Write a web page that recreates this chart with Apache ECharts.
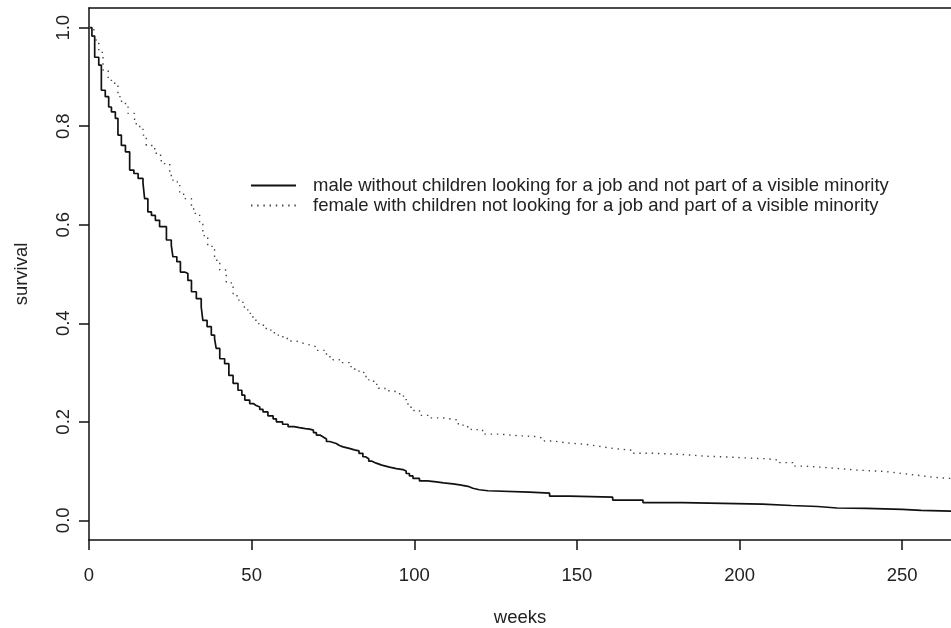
<!DOCTYPE html>
<html><head><meta charset="utf-8">
<script src="https://cdn.jsdelivr.net/npm/echarts@6/dist/echarts.min.js"></script>
<style>html,body{margin:0;padding:0;background:#fff}#c{width:951px;height:628px}</style>
</head><body><div id="c"></div>
<script>
const seriesNames = [
  'male without children looking for a job and not part of a visible minority',
  'female with children not looking for a job and part of a visible minority'
];
const maleWeeks = [0,0.9,1.75,3.0,3.8,5.0,6.05,6.9,8.1,8.9,9.95,11.2,12.5,13.8,15.1,16.6,17.1,18.1,19.2,20.4,21.7,23.8,25.3,25.8,27.0,28.1,29.4,30.4,31.5,33.0,34.5,35.0,36.3,37.6,38.6,39.1,40.2,41.7,43.0,44.3,45.8,47.0,47.9,49.4,50.5,51.4,52.5,53.5,55.0,56.6,57.6,59.5,61.2,63,64.7,66.5,67.8,69,69.9,71,72,73,74,76,77,78.1,80,81.6,83,84.2,85,86,87,88.3,90,92.4,94.5,96.5,97.5,98.5,99.6,101.6,104,106.8,109,111.9,114,116.5,118,120,122.6,135.4,141.6,147.7,161,170.3,182.5,207,215.9,224,230,239,250,255.8,268];
const maleSurv = [1.0,0.983,0.94,0.924,0.873,0.86,0.839,0.829,0.816,0.782,0.761,0.748,0.711,0.704,0.694,0.684,0.653,0.626,0.619,0.609,0.596,0.569,0.558,0.535,0.525,0.504,0.501,0.487,0.464,0.450,0.433,0.406,0.393,0.376,0.369,0.349,0.328,0.318,0.294,0.278,0.264,0.254,0.244,0.237,0.233,0.230,0.225,0.220,0.212,0.206,0.200,0.195,0.190,0.188,0.186,0.185,0.183,0.178,0.173,0.169,0.165,0.160,0.156,0.152,0.149,0.146,0.143,0.141,0.136,0.129,0.125,0.120,0.116,0.112,0.108,0.105,0.103,0.100,0.095,0.090,0.085,0.080,0.078,0.076,0.074,0.072,0.069,0.065,0.062,0.060,0.057,0.055,0.049,0.047,0.041,0.036,0.033,0.030,0.028,0.025,0.024,0.022,0.020,0.018,0.018];
const femaleWeeks = [0,1.5,3.0,4.3,5.9,7.9,8.9,10.0,12.0,14.0,15.6,16.6,17.6,20.2,22.0,22.7,24.8,25.8,27.9,29.4,31.5,32.5,34.0,35.0,36.5,38.6,40.2,42.2,44.3,45.5,47.3,48.8,50.4,52.2,54.5,57,59.6,61.5,63.7,65.5,67.8,70,73.0,75,77,80,81.5,83,84.5,86,87.5,89,91,93,95.5,97.5,99,101.6,105,108.8,112.9,115,117.5,121,126,131.4,137.5,140,142.6,147,152.9,157,161,167.2,173.3,181.5,190,197.9,204,208.2,212.3,216.4,220,224.6,228.6,236,245,250,255.3,260,264.6,268];
const femaleSurv = [1.0,0.975,0.95,0.914,0.893,0.883,0.86,0.846,0.826,0.805,0.795,0.782,0.761,0.745,0.730,0.724,0.700,0.687,0.662,0.653,0.632,0.623,0.602,0.578,0.556,0.528,0.508,0.482,0.460,0.447,0.433,0.420,0.406,0.396,0.386,0.376,0.369,0.364,0.360,0.356,0.352,0.345,0.332,0.326,0.320,0.312,0.307,0.300,0.292,0.285,0.276,0.268,0.263,0.260,0.252,0.236,0.223,0.213,0.208,0.204,0.196,0.190,0.184,0.175,0.172,0.170,0.166,0.161,0.157,0.154,0.150,0.146,0.142,0.136,0.134,0.130,0.128,0.126,0.125,0.122,0.117,0.110,0.108,0.106,0.102,0.099,0.095,0.091,0.087,0.085,0.082,0.080];
const xTicks = [0,50,100,150,200,250];
const yTicks = [0,0.2,0.4,0.6,0.8,1.0];
const yTickLabels = ['0.0','0.2','0.4','0.6','0.8','1.0'];
const xName = 'weeks';
const yName = 'survival';

const FONT = "'Liberation Sans', Arial, Helvetica, sans-serif";
const FS = 18.5;
const INK = '#111';
const TXT = '#222';
const chart = echarts.init(document.getElementById('c'), null, {renderer:'canvas'});
const pair = (xs, ys) => xs.map((x,i)=>[x, ys[i]]);
const axisLine = {show:true, onZero:false, lineStyle:{color:INK, width:1.5}};
chart.setOption({
  animation:false,
  backgroundColor:'#fff',
  textStyle:{fontFamily:FONT},
  grid:{left:89, right:0, top:8, bottom:88, containLabel:false, outerBoundsMode:'none'},
  legend:{
    orient:'vertical', left:245, top:171, itemWidth:45, itemHeight:14, itemGap:1,
    itemStyle:{opacity:0},
    textStyle:{fontFamily:FONT, fontSize:FS, color:TXT, padding:[0,0,0,12]},
    data:seriesNames
  },
  xAxis:[{
    type:'value', min:0, max:265, position:'bottom',
    axisLine:axisLine,
    axisTick:{show:true, inside:false, length:10, lineStyle:{color:INK, width:1.5}, customValues:xTicks},
    axisLabel:{show:true, margin:26, fontSize:FS, color:TXT, fontFamily:FONT, customValues:xTicks},
    splitLine:{show:false},
    name:xName, nameLocation:'middle', nameGap:68,
    nameTextStyle:{fontSize:FS, color:TXT, fontFamily:FONT}
  },{
    type:'value', min:0, max:265, position:'top',
    axisLine:axisLine, axisTick:{show:false}, axisLabel:{show:false}, splitLine:{show:false}
  }],
  yAxis:{
    type:'value', min:-0.04, max:1.04,
    axisLine:axisLine,
    axisTick:{show:true, length:10, lineStyle:{color:INK, width:1.5}, customValues:yTicks},
    axisLabel:{show:true, rotate:90, margin:16, fontSize:FS, color:TXT, fontFamily:FONT,
      customValues:yTicks, formatter:(v)=>{const i=yTicks.findIndex(t=>Math.abs(t-v)<1e-9);return i>=0?yTickLabels[i]:'';}},
    splitLine:{show:false},
    name:yName, nameLocation:'middle', nameGap:58,
    nameTextStyle:{fontSize:FS, color:TXT, fontFamily:FONT}
  },
  series:[{
    name:seriesNames[0], type:'line', step:'end', xAxisIndex:0,
    data:pair(maleWeeks, maleSurv), symbol:'none', showSymbol:false,
    lineStyle:{color:INK, width:1.7}, itemStyle:{color:INK}
  },{
    name:seriesNames[1], type:'line', step:'end', xAxisIndex:0,
    data:pair(femaleWeeks, femaleSurv), symbol:'none', showSymbol:false,
    lineStyle:{color:'#444', width:1.4, type:[1.4,4.8], cap:'butt'}, itemStyle:{color:'#444'}
  }]
});
</script></body></html>
